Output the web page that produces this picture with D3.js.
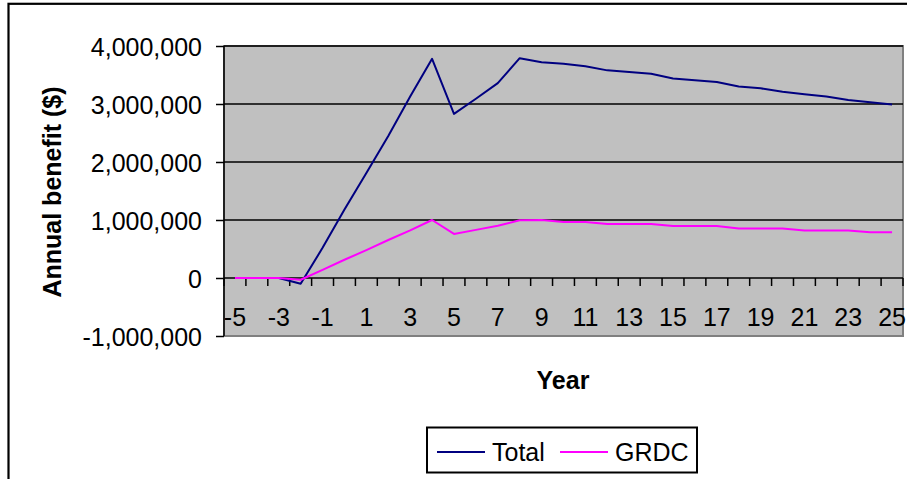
<!DOCTYPE html>
<html>
<head>
<meta charset="utf-8">
<script src="https://cdn.jsdelivr.net/npm/d3@7"></script>
<style>
    body { margin: 0; background: #ffffff; }
    text { font-family: Arial, "Liberation Sans", sans-serif; fill: #000000; }
</style>
</head>
<body>
<div id="chart"></div>
<script>
// DATA
var years = d3.range(-5, 26);
var totalBenefit = [0, 0, 0, -100000, 520000, 1180000, 1810000, 2450000, 3130000, 3780000,
    2830000, 3090000, 3360000, 3790000, 3720000, 3695000, 3650000, 3580000, 3550000, 3520000,
    3440000, 3410000, 3380000, 3300000, 3270000, 3210000, 3170000, 3130000, 3070000, 3030000, 2990000];
var grdcBenefit = [0, 0, 0, -30000, 140000, 315000, 480000, 655000, 820000, 1000000,
    760000, 830000, 900000, 995000, 1000000, 965000, 965000, 930000, 930000, 930000,
    895000, 895000, 895000, 855000, 855000, 855000, 820000, 820000, 820000, 790000, 790000];
var yTicks = [-1000000, 0, 1000000, 2000000, 3000000, 4000000];
var xLabels = years.filter(function(d) { return (d + 5) % 2 === 0; });
var seriesNames = ["Total", "GRDC"];
var seriesColors = ["#000080", "#ff00ff"];

var svgWidth = 907;
var svgHeight = 479;

//Plot area box
var plot = { left: 224, right: 903, top: 46, bottom: 336 };

var svg = d3.select("#chart")
    .append("svg")
    .attr("width", svgWidth)
    .attr("height", svgHeight);

//Outer chart border (runs off the picture on right and bottom)
svg.append("rect")
    .attr("x", 8.5)
    .attr("y", 3.8)
    .attr("width", 1000)
    .attr("height", 600)
    .attr("fill", "#ffffff")
    .attr("stroke", "#000000")
    .attr("stroke-width", 2.2);

//SCALES
var xScale = d3.scaleBand()
    .domain(years)
    .range([plot.left, plot.right])
    .padding(0);

var yScale = d3.scaleLinear()
    .domain([-1000000, 4000000])
    .range([plot.bottom, plot.top]);

//Plot background
svg.append("rect")
    .attr("x", plot.left)
    .attr("y", plot.top)
    .attr("width", plot.right - plot.left)
    .attr("height", plot.bottom - plot.top)
    .attr("fill", "#c0c0c0")
    .attr("stroke", "#808080")
    .attr("stroke-width", 2);

//Gridlines
svg.append("g")
    .selectAll("line")
    .data(yTicks.filter(function(d) { return d > -1000000; }))
    .enter()
    .append("line")
    .attr("x1", plot.left)
    .attr("x2", plot.right)
    .attr("y1", d => yScale(d))
    .attr("y2", d => yScale(d))
    .attr("stroke", "#000000")
    .attr("stroke-width", 1.5);

//Y AXIS (plain hyphen for the minus sign, as in the original)
var commaFormat = d3.format(",");
var yAxis = d3.axisLeft(yScale)
    .tickValues(yTicks)
    .tickSize(8)
    .tickPadding(14)
    .tickFormat(d => commaFormat(d).replace("\u2212", "-"));

var yAxisGroup = svg.append("g")
    .attr("transform", `translate(${plot.left}, 0)`)
    .call(yAxis);

yAxisGroup.select(".domain")
    .attr("stroke", "#000000")
    .attr("stroke-width", 1.5)
    .attr("d", `M0,${plot.top}V${plot.bottom}`);
yAxisGroup.selectAll(".tick line").attr("stroke", "#000000").attr("stroke-width", 1.5);
yAxisGroup.selectAll(".tick text")
    .style("font-size", "25px")
    .attr("dy", "0.36em")
    .attr("font-family", "Arial, 'Liberation Sans', sans-serif");

//X AXIS (crosses at zero, ticks between categories)
var zeroY = yScale(0);
var xAxisGroup = svg.append("g");

xAxisGroup.selectAll("line")
    .data(d3.range(years.length + 1))
    .enter()
    .append("line")
    .attr("x1", i => plot.left + i * xScale.bandwidth())
    .attr("x2", i => plot.left + i * xScale.bandwidth())
    .attr("y1", zeroY)
    .attr("y2", zeroY + 8)
    .attr("stroke", "#000000")
    .attr("stroke-width", 1.5);

xAxisGroup.selectAll("text")
    .data(xLabels)
    .enter()
    .append("text")
    .attr("x", d => xScale(d) + xScale.bandwidth() / 2)
    .attr("y", zeroY + 48)
    .attr("text-anchor", "middle")
    .style("font-size", "25px")
    .text(d => d);

//LINES
var lineGen = d3.line()
    .x((d, i) => xScale(years[i]) + xScale.bandwidth() / 2)
    .y(d => yScale(d));

[totalBenefit, grdcBenefit].forEach(function(series, k) {
    svg.append("path")
        .datum(series)
        .attr("d", lineGen)
        .attr("fill", "none")
        .attr("stroke", seriesColors[k])
        .attr("stroke-width", 2)
        .attr("stroke-linejoin", "round");
});

//Axis titles
svg.append("text")
    .attr("transform", "translate(61, 192) rotate(-90)")
    .attr("text-anchor", "middle")
    .style("font-size", "25px")
    .style("font-weight", "bold")
    .text("Annual benefit ($)");

svg.append("text")
    .attr("x", 563)
    .attr("y", 389)
    .attr("text-anchor", "middle")
    .style("font-size", "25px")
    .style("font-weight", "bold")
    .text("Year");

//LEGEND
var legend = svg.append("g");

legend.append("rect")
    .attr("x", 427)
    .attr("y", 427.5)
    .attr("width", 270)
    .attr("height", 45)
    .attr("fill", "#ffffff")
    .attr("stroke", "#000000")
    .attr("stroke-width", 2);

var legendItems = legend.selectAll(".item")
    .data(seriesNames)
    .enter()
    .append("g")
    .attr("class", "item")
    .attr("transform", (d, i) => `translate(${[437, 560][i]}, 452)`);

legendItems.append("line")
    .attr("x1", 0)
    .attr("x2", 48)
    .attr("stroke", (d, i) => seriesColors[i])
    .attr("stroke-width", 2);

legendItems.append("text")
    .attr("x", 55)
    .attr("y", 9)
    .style("font-size", "25px")
    .text(d => d);
</script>
</body>
</html>
